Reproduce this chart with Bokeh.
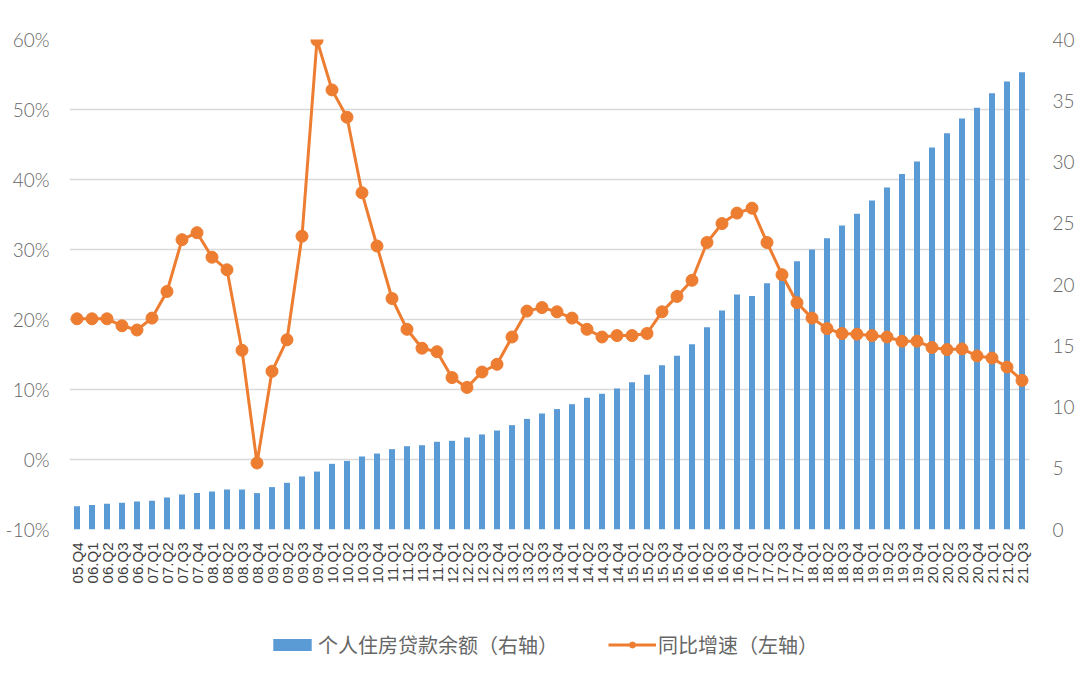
from bokeh.plotting import figure
from bokeh.layouts import column
from bokeh.models import (Range1d, LinearAxis, FactorRange, FixedTicker,
                          Legend, LegendItem, ColumnDataSource)
from bokeh.embed import file_html
from bokeh.resources import INLINE
import math

# Quarter labels, 2005 Q4 through 2021 Q3
quarters = (["05.Q4"]
            + [f"{y:02d}.Q{q}" for y in range(6, 21) for q in range(1, 5)]
            + ["21.Q1", "21.Q2", "21.Q3"])

# Outstanding personal housing loans (trillion yuan, right axis)
balance = [
    1.90, 2.01, 2.10, 2.18, 2.29,
    2.34, 2.61, 2.86, 2.97,
    3.10, 3.27, 3.27, 2.97,
    3.46, 3.81, 4.33, 4.73,
    5.36, 5.60, 5.96, 6.20,
    6.56, 6.80, 6.88, 7.16,
    7.24, 7.51, 7.76, 8.08,
    8.52, 9.03, 9.47, 9.83,
    10.23, 10.75, 11.08, 11.51,
    12.03, 12.63, 13.41, 14.18,
    15.13, 16.51, 17.88, 19.18,
    19.07, 20.11, 21.00, 21.90,
    22.86, 23.78, 24.82, 25.77,
    26.86, 27.92, 29.03, 30.04,
    31.18, 32.35, 33.55, 34.42,
    35.62, 36.57, 37.33,
]

# Year-on-year growth (%, left axis)
growth = [
    20.1, 20.1, 20.1, 19.1, 18.5,
    20.2, 24.0, 31.4, 32.4,
    28.9, 27.1, 15.6, -0.5,
    12.6, 17.1, 31.9, 59.9,
    52.8, 48.9, 38.1, 30.5,
    23.0, 18.6, 15.9, 15.4,
    11.7, 10.3, 12.5, 13.6,
    17.5, 21.2, 21.7, 21.1,
    20.2, 18.6, 17.5, 17.7,
    17.7, 18.0, 21.1, 23.3,
    25.6, 31.0, 33.7, 35.2,
    35.9, 31.0, 26.4, 22.4,
    20.2, 18.7, 18.0, 17.9,
    17.7, 17.5, 16.9, 16.9,
    16.0, 15.7, 15.8, 14.8,
    14.5, 13.2, 11.3,
]

left_ticks = [-10, 0, 10, 20, 30, 40, 50, 60]
right_ticks = [0, 5, 10, 15, 20, 25, 30, 35, 40]
label_bar = "个人住房贷款余额（右轴）"
label_line = "同比增速（左轴）"

BLUE = "#5B9BD5"
ORANGE = "#ED7D31"
TICK_GRAY = "#666666"
NUM_FONT = "'Lato Light', Lato, sans-serif"
CJK_FONT = "Noto Sans CJK SC"

src = ColumnDataSource(dict(q=quarters, balance=balance, growth=growth))
xr = FactorRange(*quarters, range_padding=0)

p = figure(width=1080, height=600, x_range=xr, y_range=Range1d(-10, 60),
           output_backend="svg", toolbar_location=None,
           min_border_left=69, min_border_right=51,
           min_border_top=39, min_border_bottom=71)
p.extra_y_ranges = {"right": Range1d(0, 40)}
p.outline_line_color = None
p.background_fill_color = "white"
p.border_fill_color = "white"

bar_style = dict(width=0.4, fill_color=BLUE, line_color=None)
line_style = dict(line_color=ORANGE, line_width=3)
dot_style = dict(size=12, fill_color=ORANGE, line_color=ORANGE)

p.vbar(x="q", top="balance", bottom=0, source=src, y_range_name="right", **bar_style)
p.line(x="q", y="growth", source=src, **line_style)
p.scatter(x="q", y="growth", source=src, **dot_style)

# Grid
p.xgrid.grid_line_color = None
p.ygrid.ticker = FixedTicker(ticks=left_ticks)
p.ygrid.grid_line_color = "#d9d9d9"
p.ygrid.grid_line_width = 1.5

# Left axis (percent)
ya = p.yaxis[0]
ya.ticker = FixedTicker(ticks=left_ticks)
ya.major_label_overrides = {t: f"{t}%" for t in left_ticks}
ya.axis_line_color = None
ya.major_tick_line_color = None
ya.minor_tick_line_color = None
ya.major_label_standoff = 14
ya.major_label_text_font = NUM_FONT
ya.major_label_text_font_size = "19px"
ya.major_label_text_color = TICK_GRAY

# Right axis (trillion yuan)
ra = LinearAxis(y_range_name="right", ticker=FixedTicker(ticks=right_ticks))
ra.axis_line_color = None
ra.major_tick_line_color = None
ra.minor_tick_line_color = None
ra.major_label_standoff = 17
ra.major_label_text_font = NUM_FONT
ra.major_label_text_font_size = "19px"
ra.major_label_text_color = TICK_GRAY
p.add_layout(ra, "right")

# Category axis with vertical quarter labels
xa = p.xaxis[0]
xa.axis_line_color = None
xa.major_tick_line_color = None
xa.minor_tick_line_color = None
xa.major_label_orientation = math.pi / 2
xa.major_label_standoff = 7
xa.major_label_text_font = "Liberation Sans"
xa.major_label_text_font_size = "15px"
xa.major_label_text_color = "#404040"

# Legend strip under the chart. It carries hidden copies of the two series
# (same source, same quarter range) so the legend can show their glyphs.
lg = figure(width=1080, height=77, x_range=xr, y_range=Range1d(0, 1),
            x_axis_type=None, y_axis_type=None,
            output_backend="svg", toolbar_location=None,
            min_border=0, outline_line_color=None)
lg.xgrid.visible = False
lg.ygrid.visible = False
k_bar = lg.vbar(x="q", top="balance", bottom=0, source=src, visible=False, **bar_style)
k_line = lg.line(x="q", y="growth", source=src, visible=False, **line_style)
k_dot = lg.scatter(x="q", y="growth", source=src, visible=False, **dot_style)

legend = Legend(items=[LegendItem(label=label_bar, renderers=[k_bar]),
                       LegendItem(label=label_line, renderers=[k_line, k_dot])],
                orientation="horizontal", location=(199, 18),
                glyph_width=48, glyph_height=15, label_standoff=2,
                spacing=50, padding=0, margin=0,
                border_line_color=None, background_fill_alpha=0,
                inactive_fill_alpha=0,
                label_text_font=CJK_FONT, label_text_font_size="20px",
                label_text_color=TICK_GRAY)
lg.add_layout(legend, "center")

open("out.html", "w").write(file_html(column(p, lg, spacing=0), INLINE))
